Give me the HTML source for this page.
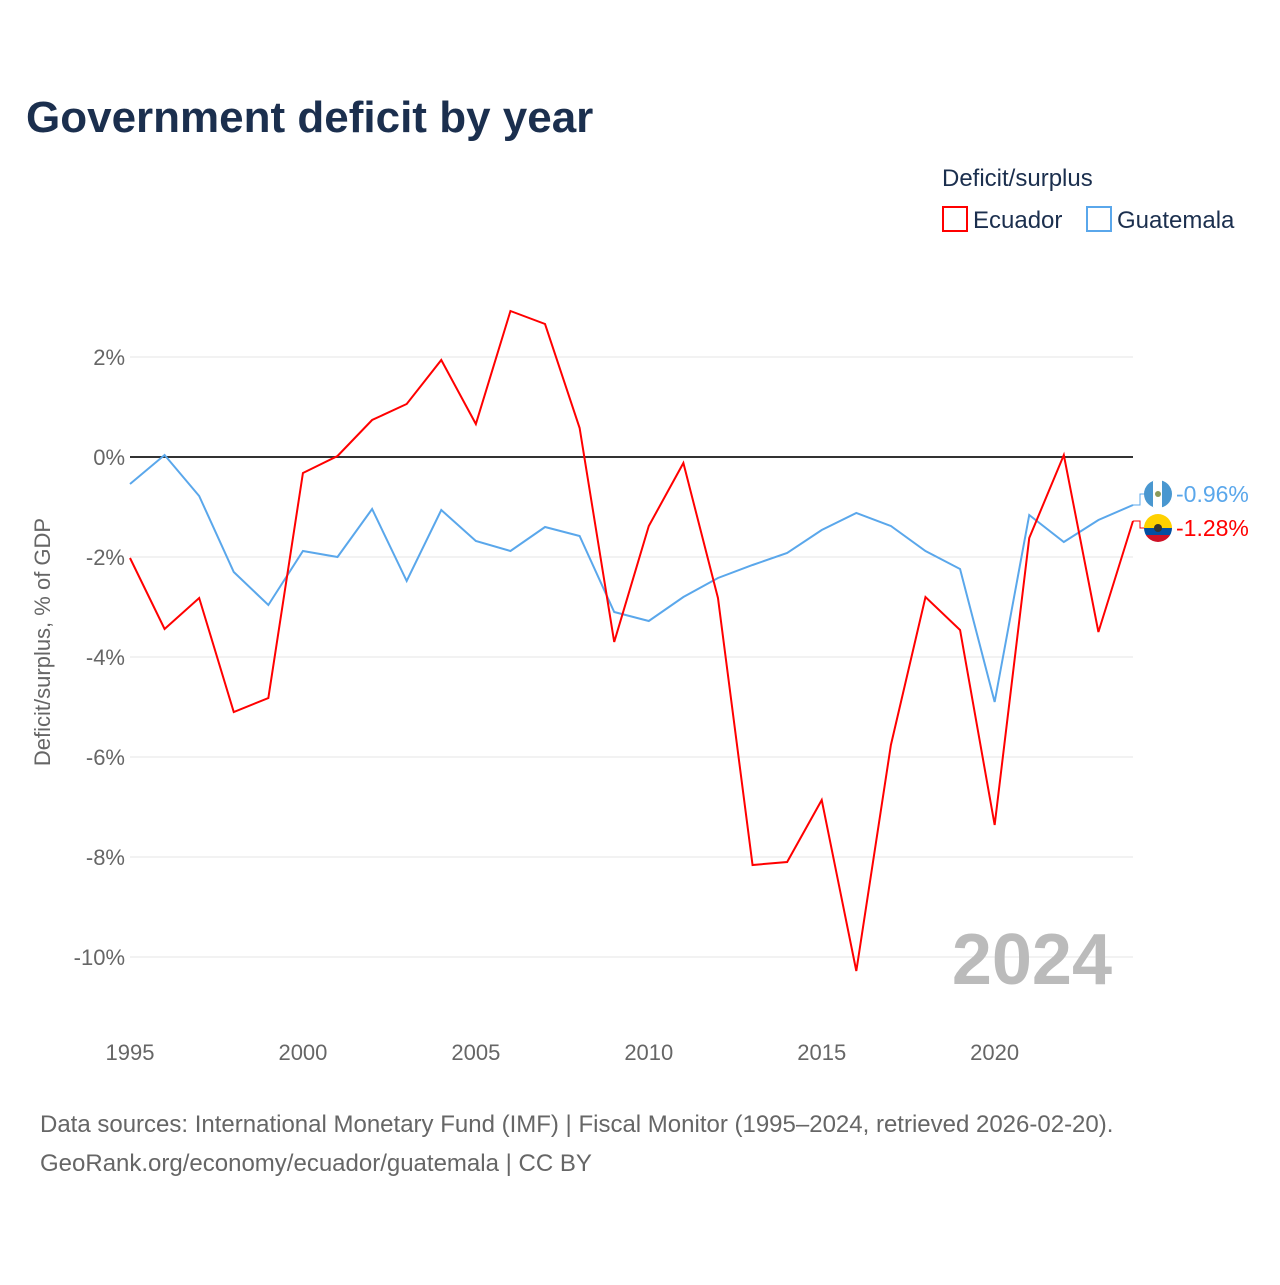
<!DOCTYPE html>
<html><head><meta charset="utf-8"><style>
body{margin:0;background:#fff;font-family:"Liberation Sans",sans-serif;}
svg text{font-family:"Liberation Sans",sans-serif;}
</style></head><body>
<svg id="chart" width="1280" height="1280">
<defs>
<clipPath id="cg"><circle cx="1158" cy="494" r="14"/></clipPath>
<clipPath id="ce"><circle cx="1158" cy="528" r="14"/></clipPath>
</defs>
<text x="26" y="132" font-size="44" font-weight="bold" fill="#1b2f4e">Government deficit by year</text>
<text x="942" y="186" font-size="24" fill="#1b2f4e">Deficit/surplus</text>
<g><rect x="943" y="207" width="24" height="24" fill="none" stroke="#f00" stroke-width="2"/><text x="973" y="228" font-size="24" fill="#1b2f4e">Ecuador</text></g>
<g><rect x="1087" y="207" width="24" height="24" fill="none" stroke="#5aa7eb" stroke-width="2"/><text x="1117" y="228" font-size="24" fill="#1b2f4e">Guatemala</text></g>
<text transform="translate(50,642) rotate(-90)" text-anchor="middle" font-size="22" fill="#666">Deficit/surplus, % of GDP</text>
<g id="grid"></g><g id="series"></g>
<g clip-path="url(#cg)">
<rect x="1144" y="480" width="10" height="28" fill="#4997d0"/><rect x="1153" y="480" width="10" height="28" fill="#fff"/><rect x="1162" y="480" width="10" height="28" fill="#4997d0"/><circle cx="1158" cy="494" r="3" fill="#8a9a5b"/>
</g>
<g clip-path="url(#ce)">
<rect x="1144" y="514" width="28" height="14" fill="#ffd100"/><rect x="1144" y="528" width="28" height="7" fill="#034ea2"/><rect x="1144" y="535" width="28" height="7" fill="#ce1126"/><circle cx="1158" cy="528" r="4" fill="#333"/>
</g>
<text x="1112" y="984" text-anchor="end" font-size="72" font-weight="bold" fill="#bbb">2024</text>
<text x="40" y="1132" font-size="24" fill="#666">Data sources: International Monetary Fund (IMF) | Fiscal Monitor (1995–2024, retrieved 2026-02-20).</text>
<text x="40" y="1171" font-size="24" fill="#666">GeoRank.org/economy/ecuador/guatemala | CC BY</text>
</svg>
<script>
const years=[1995,1996,1997,1998,1999,2000,2001,2002,2003,2004,2005,2006,2007,2008,2009,2010,2011,2012,2013,2014,2015,2016,2017,2018,2019,2020,2021,2022,2023,2024];
const ecuador=[-2.02,-3.44,-2.82,-5.1,-4.82,-0.32,0.02,0.74,1.06,1.94,0.66,2.92,2.66,0.58,-3.7,-1.38,-0.12,-2.82,-8.16,-8.1,-6.86,-10.28,-5.76,-2.8,-3.46,-7.36,-1.62,0.04,-3.5,-1.28];
const guatemala=[-0.54,0.04,-0.78,-2.3,-2.96,-1.88,-2.0,-1.04,-2.48,-1.06,-1.68,-1.88,-1.4,-1.58,-3.1,-3.28,-2.8,-2.42,-2.16,-1.92,-1.46,-1.12,-1.38,-1.88,-2.24,-4.9,-1.16,-1.7,-1.26,-0.96];
const yTicks=[2,0,-2,-4,-6,-8,-10];
const xTicks=[1995,2000,2005,2010,2015,2020];
const NS="http://www.w3.org/2000/svg";
const X=y=>130+(y-1995)*(1133-130)/29;
const Y=v=>457-v*50;
function mk(t,a,p){const e=document.createElementNS(NS,t);for(const k in a)e.setAttribute(k,a[k]);p.appendChild(e);return e;}
const g=document.getElementById('grid'),s=document.getElementById('series');
yTicks.forEach(v=>{
 const l=mk('line',{x1:130,x2:1133,y1:Y(v),y2:Y(v),stroke:v===0?'#333':'#e6e6e6','stroke-width':v===0?2:1},g);
 
 
 const t=mk('text',{x:125,y:Y(v)+8,'text-anchor':'end','font-size':22,fill:'#666'},g);t.textContent=v+'%';
 
 
});
xTicks.forEach(v=>{
 const t=mk('text',{x:X(v),y:1060,'text-anchor':'middle','font-size':22,fill:'#666'},g);t.textContent=v;
 
 
});
function line(d,c,name){
 const p=mk('polyline',{points:d.map((v,i)=>X(years[i])+','+Y(v)).join(' '),fill:'none',stroke:c,'stroke-width':2},s);
 
 
}
line(guatemala,'#5aa7eb','guatemala-line');
line(ecuador,'#f00','ecuador-line');
const last=years.length-1;
function endLabel(v,c,ly,name){
 const gg=mk('g',{},s);
 
 
 mk('polyline',{points:`${X(years[last])},${Y(v)} 1140,${Y(v)} 1140,${ly} 1146,${ly}`,fill:'none',stroke:c,'stroke-width':1},gg);
 const t=mk('text',{x:1176,y:ly+8,'font-size':23,fill:c},gg);t.textContent=v.toFixed(2)+'%';
}
endLabel(guatemala[last],'#5aa7eb',494,'guatemala-end-label');
endLabel(ecuador[last],'#f00',528,'ecuador-end-label');
</script>
</body></html>
